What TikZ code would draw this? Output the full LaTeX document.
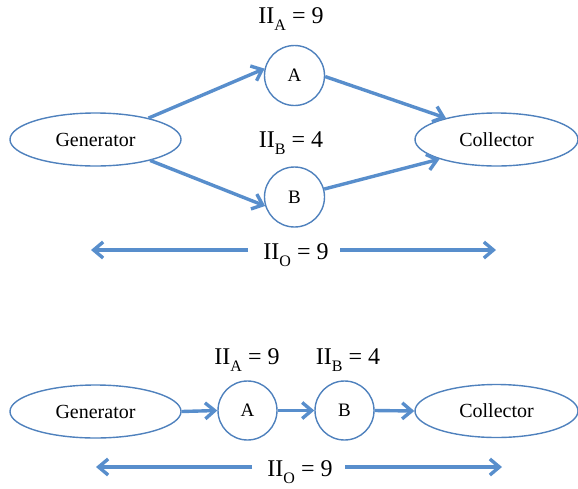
\documentclass[tikz,border=0pt]{standalone}
\usepackage{fontspec}
\setmainfont{Liberation Serif}
\usetikzlibrary{shapes.geometric,arrows.meta}
\definecolor{ln}{RGB}{88,142,204}
\definecolor{ol}{RGB}{79,129,189}
\newcommand{\IIsub}[1]{II\raisebox{-7pt}{\fontsize{16}{16}\selectfont #1}}
\begin{document}
\begin{tikzpicture}[x=1pt,y=-1pt,
  oval/.style={ellipse,draw=ol,line width=1.4pt,minimum width=171pt,minimum height=53pt,inner sep=0pt,font=\fontsize{20}{20}\selectfont},
  circ/.style={circle,draw=ol,line width=1.4pt,minimum size=60pt,inner sep=0pt,font=\fontsize{19}{19}\selectfont},
  lbl/.style={anchor=base,inner sep=0pt,font=\fontsize{24}{24}\selectfont},
  conn/.style={draw=ln,line width=3.4pt,-{Straight Barb[length=9.5pt,width=16pt]}},
]
\useasboundingbox (0,0) rectangle (578,488);

% ---- top: parallel ----
\node[oval] (g1) at (95.5,139.5) {Generator};
\node[oval,minimum width=163pt] (c1) at (496.5,139.5) {Collector};
\node[circ] (a1) at (294.5,75.5) {A};
\node[circ] (b1) at (294.5,197) {B};
\node[lbl] (la1) at (291,23) {\IIsub{A} = 9};
\node[lbl] (lb1) at (291,147) {\IIsub{B} = 4};
\node[lbl] (lo1) at (296,259) {\IIsub{O} = 9};

\draw[conn] (g1.22) -- (a1.167);
\draw[conn] (a1.-2) -- (c1.157);
\draw[conn] (g1.-21) -- (b1.197);
\draw[conn] (b1.15) -- (c1.199);

\coordinate (ols1) at (248,250);
\coordinate (ole1) at (91,250);
\coordinate (ors1) at (340,250);
\coordinate (ore1) at (496,250);
\draw[conn] (ols1) -- (ole1);
\draw[conn] (ors1) -- (ore1);

% ---- bottom: serial ----
\node[oval] (g2) at (95.5,411.5) {Generator};
\node[oval,minimum width=163pt] (c2) at (496.5,411) {Collector};
\node[circ,minimum size=59pt] (a2) at (247.5,410.5) {A};
\node[circ,minimum size=59pt] (b2) at (344.5,410.5) {B};
\node[lbl] (la2) at (247,364) {\IIsub{A} = 9};
\node[lbl] (lb2) at (348,364) {\IIsub{B} = 4};
\node[lbl] (lo2) at (300,476) {\IIsub{O} = 9};

\draw[conn] (g2.east) -- (a2.west);
\draw[conn] (a2.east) -- (b2.west);
\draw[conn] (b2.east) -- (c2.west);

\coordinate (ols2) at (252,467);
\coordinate (ole2) at (96,467);
\coordinate (ors2) at (345,467);
\coordinate (ore2) at (502,467);
\draw[conn] (ols2) -- (ole2);
\draw[conn] (ors2) -- (ore2);
\end{tikzpicture}
\end{document}
